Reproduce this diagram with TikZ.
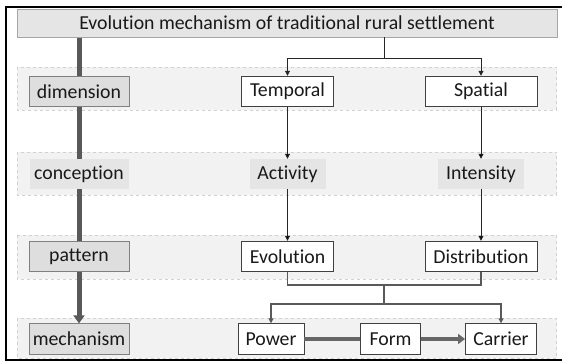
\documentclass[tikz,border=0pt]{standalone}
\usepackage{fontspec}
\setmainfont[Ligatures=NoCommon]{Carlito}
\usetikzlibrary{arrows.meta}
\pgfdeclarelayer{bands}
\pgfdeclarelayer{spine}
\pgfsetlayers{bands,spine,main}

\begin{document}
\begin{tikzpicture}[x=1pt, y=-1pt, >={Triangle[length=5pt,width=5pt]},
    font=\fontsize{19.8}{21}\selectfont, text=black!90,
    title node/.style={draw=black!35, line width=0.8pt, fill=black!10, minimum width=540pt, minimum height=28pt, inner sep=0pt},
    level node/.style={draw=black!50, line width=0.8pt, fill=black!13, minimum width=100pt, minimum height=30.5pt, inner sep=0pt},
    idea node/.style={fill=black!10, minimum height=30pt, inner sep=0pt},
    main node/.style={draw=black!75, line width=0.9pt, fill=white, minimum height=30.5pt, inner sep=0pt},
    band/.style={draw=black!18, dashed, fill=black!5},
    flow/.style={->, draw=black!85, line width=0.9pt},
    link/.style={draw=black!65, line width=1.2pt},
    heavy/.style={draw=black!60, line width=4.5pt},
    spine arrow/.style={draw=black!65, line width=5pt, -{Triangle[length=8pt,width=11pt]}}]

    % frame
    \useasboundingbox (0,0) rectangle (562,363);
    \draw[line width=2pt] (562,7) -- (6,7) -- (6,359.5) -- (562,359.5);

    \node[title node] (title) at (287,23) {Evolution mechanism of traditional rural settlement};

    % levels
    \node[level node]                        (dimension)    at (79,91.5)    {dimension};
    \node[idea node, minimum width=99pt]     (conception)   at (79,174)     {conception};
    \node[level node]                        (pattern)      at (79,256.5)   {pattern};
    \node[level node]                        (mechanism)    at (79,339)     {mechanism};

    \node[main node, minimum width=92pt]     (temporal)     at (287.5,91.5) {Temporal};
    \node[main node, minimum width=112pt]    (spatial)      at (481,91.5)   {Spatial};
    \node[idea node, minimum width=76pt]     (activity)     at (287.5,174)  {Activity};
    \node[idea node, minimum width=86pt]     (intensity)    at (481,174)    {Intensity};
    \node[main node, minimum width=92pt]     (evolution)    at (287.5,256.5){Evolution};
    \node[main node, minimum width=112pt]    (distribution) at (481,256.5)  {Distribution};
    \node[main node, minimum width=66pt]     (power)        at (271,339)    {Power};
    \node[main node, minimum width=60pt]     (form)         at (390.5,339)  {Form};
    \node[main node, minimum width=71pt]     (carrier)      at (501,339)    {Carrier};

    \begin{pgfonlayer}{bands}
        \foreach \top/\bot in {67/110, 152/195, 235/279, 318/358}
            \draw[band] (17,\top) rectangle (556.5,\bot);
    \end{pgfonlayer}

    \begin{pgfonlayer}{spine}
        \draw[spine arrow] (title.south -| mechanism) -- (mechanism.north);
    \end{pgfonlayer}

    \coordinate (split)     at (384,58);
    \coordinate (join)      at (384,285);
    \coordinate (split low) at (384,304);

    \draw[flow, -] (title.south -| split) -- (split);
    \draw[flow] (split) -| (temporal);
    \draw[flow] (split) -| (spatial);

    \path[flow]
        (temporal)  edge (activity)
        (spatial)   edge (intensity)
        (activity)  edge (evolution)
        (intensity) edge (distribution);

    \draw[link] (evolution.south) -- (evolution.south |- join) -- (distribution.south |- join) -- (distribution.south);
    \draw[link] (join) -- (split low);
    \draw[link, ->] (split low) -| (power);
    \draw[link, ->] (split low) -| (carrier);

    \draw[heavy] (power) -- (form);
    \draw[heavy, -{Triangle[length=7pt,width=10pt]}] (form) -- (carrier);
\end{tikzpicture}
\end{document}
